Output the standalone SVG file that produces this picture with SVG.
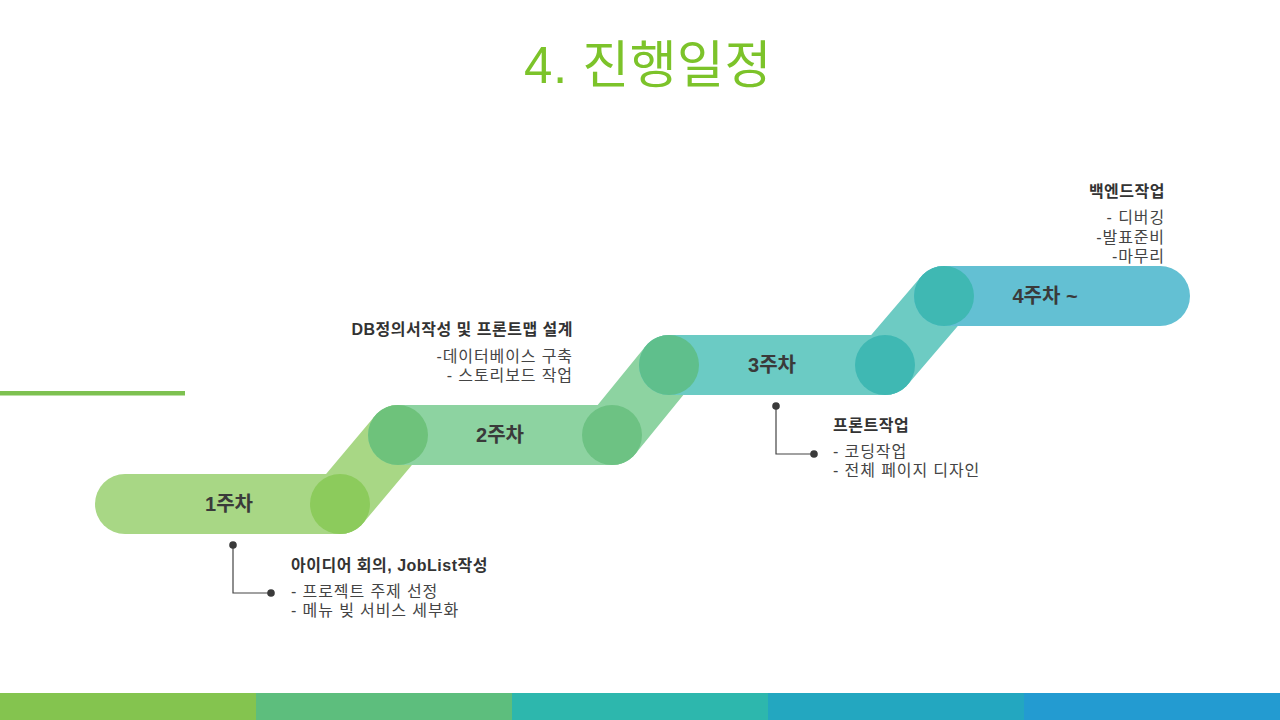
<svg xmlns="http://www.w3.org/2000/svg" width="1280" height="720" viewBox="0 0 1280 720">
<style>
text{font-family:"Liberation Sans","Noto Sans CJK KR",sans-serif}
.title{font-size:51px;fill:#7CC32A;letter-spacing:0.5px}
.step{font-size:20px;font-weight:700;fill:#3A3A3A;text-anchor:middle;dominant-baseline:central}
.head{font-size:16px;font-weight:700;fill:#333333;letter-spacing:0.5px}
.body{font-size:16px;fill:#444444;letter-spacing:0.9px}
.r{text-anchor:end}
.lead{stroke:#444444;stroke-width:1.2;fill:none}
.dot{fill:#3A3A3A}
</style>
<rect width="1280" height="720" fill="#FFFFFF"/>
<text class="title" x="648" y="83" text-anchor="middle">4. 진행일정</text>
<rect x="0" y="391" width="185" height="4.5" fill="#7DC150"/>
<g id="connectors">
<line x1="340" y1="504" x2="398" y2="435" stroke="#A8D785" stroke-width="60" stroke-linecap="round"/>
<line x1="612" y1="435" x2="669" y2="365" stroke="#8DD3A1" stroke-width="60" stroke-linecap="round"/>
<line x1="885" y1="365" x2="944" y2="296" stroke="#6DCBC3" stroke-width="60" stroke-linecap="round"/>
</g>
<g id="step1">
<rect x="95" y="474" width="275" height="60" rx="30" fill="#A8D785"/>
<text class="step" x="229" y="504">1주차</text>
</g>
<g id="step2">
<rect x="368" y="405" width="274" height="60" rx="30" fill="#8DD3A1"/>
<text class="step" x="500" y="435">2주차</text>
</g>
<g id="step3">
<rect x="639" y="335" width="276" height="60" rx="30" fill="#6BCBC4"/>
<text class="step" x="772" y="365">3주차</text>
</g>
<g id="step4">
<rect x="914" y="266" width="276" height="60" rx="30" fill="#63C0D3"/>
<text class="step" x="1045" y="296">4주차 ~</text>
</g>
<g id="joints">
<circle cx="340" cy="504" r="30" fill="#8CCB5C"/>
<circle cx="398" cy="435" r="30" fill="#6EC27B"/>
<circle cx="612" cy="435" r="30" fill="#6DC283"/>
<circle cx="669" cy="365" r="30" fill="#5FBF8C"/>
<circle cx="885" cy="365" r="30" fill="#3FB8B3"/>
<circle cx="944" cy="296" r="30" fill="#3FB8B3"/>
</g>
<g id="note1">
<polyline class="lead" points="233,545 233,593 271,593"/>
<circle class="dot" cx="233" cy="545" r="3.8"/>
<circle class="dot" cx="271" cy="593" r="3.8"/>
<text class="head" x="291" y="571">아이디어 회의, JobList작성</text>
<text class="body" x="291" y="597">- 프로젝트 주제 선정</text>
<text class="body" x="291" y="616">- 메뉴 빚 서비스 세부화</text>
</g>
<g id="note2">
<text class="head r" x="573" y="335">DB정의서작성 및 프론트맵 설계</text>
<text class="body r" x="573" y="362">-데이터베이스 구축</text>
<text class="body r" x="573" y="381">- 스토리보드 작업</text>
</g>
<g id="note3">
<polyline class="lead" points="776,406 776,454 814,454"/>
<circle class="dot" cx="776" cy="406" r="3.8"/>
<circle class="dot" cx="814" cy="454" r="3.8"/>
<text class="head" x="833" y="431">프론트작업</text>
<text class="body" x="833" y="457">- 코딩작업</text>
<text class="body" x="833" y="476">- 전체 페이지 디자인</text>
</g>
<g id="note4">
<text class="head r" x="1165" y="197">백엔드작업</text>
<text class="body r" x="1165" y="223">- 디버깅</text>
<text class="body r" x="1165" y="243">-발표준비</text>
<text class="body r" x="1165" y="262">-마무리</text>
</g>
<g id="footer">
<rect x="0" y="693" width="256" height="27" fill="#84C44F"/>
<rect x="256" y="693" width="256" height="27" fill="#5DBE7D"/>
<rect x="512" y="693" width="256" height="27" fill="#2DB7AD"/>
<rect x="768" y="693" width="256" height="27" fill="#23A7C0"/>
<rect x="1024" y="693" width="256" height="27" fill="#239BD1"/>
</g>
</svg>
